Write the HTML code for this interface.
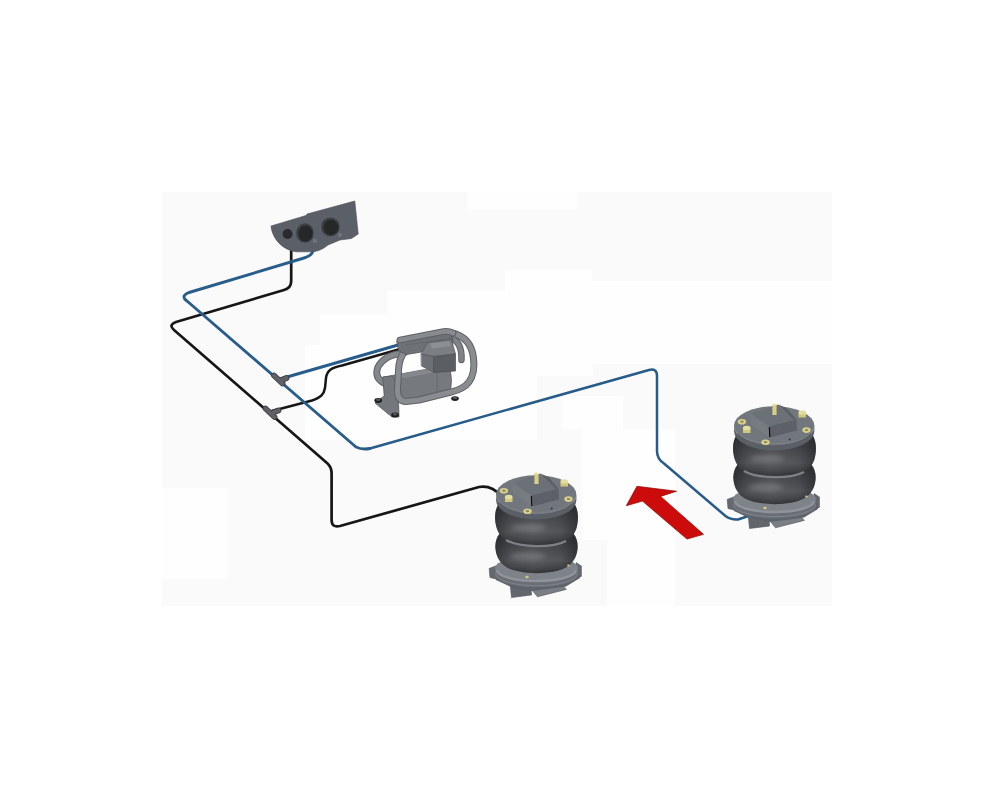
<!DOCTYPE html>
<html><head><meta charset="utf-8"><title>Air suspension</title>
<style>
html,body{margin:0;padding:0;background:#fff;width:1000px;height:800px;overflow:hidden;font-family:"Liberation Sans",sans-serif;}
svg{position:absolute;left:0;top:0;}
</style></head><body>
<svg width="1000" height="800" viewBox="0 0 1000 800">
<defs>
<filter id="hb" x="-50%" y="-50%" width="200%" height="200%"><feGaussianBlur stdDeviation="2.2"/></filter>
<linearGradient id="belg" x1="0" y1="0" x2="0" y2="1">
<stop offset="0" stop-color="#37383c"/><stop offset="0.3" stop-color="#46474b"/><stop offset="0.68" stop-color="#5a5b5f"/><stop offset="0.86" stop-color="#45464a"/><stop offset="1" stop-color="#2c2d31"/>
</linearGradient>
<linearGradient id="bel" x1="0" y1="0" x2="1" y2="0">
<stop offset="0" stop-color="#1e1f22" stop-opacity="0.55"/><stop offset="0.18" stop-color="#1e1f22" stop-opacity="0.1"/><stop offset="0.45" stop-color="#808185" stop-opacity="0.12"/><stop offset="0.8" stop-color="#1e1f22" stop-opacity="0.12"/><stop offset="1" stop-color="#1e1f22" stop-opacity="0.6"/>
</linearGradient>
</defs>

<!-- background panel -->
<rect x="162" y="192" width="670" height="414" fill="#fafafa"/>
<g fill="#fefefe">
<rect x="467" y="192" width="109.5" height="17.5"/>
<polygon points="387,291 505,291 505,270 592,270 592,281 832,281 832,364 593,364 593,376 537,376 537,440 305,440 305,345 320,345 320,315 387,315"/>
<rect x="162" y="488" width="65.5" height="91"/>
<rect x="562" y="396" width="61" height="33"/>
<rect x="582" y="429" width="93" height="111"/>
<rect x="607" y="539" width="68" height="67"/>
</g>

<!-- lines -->
<g fill="none" stroke-linecap="round" stroke-linejoin="round">
<!-- black main -->
<path d="M291.2,250 L291.2,281 Q291.2,288 284,290 L176,322 Q168,325 174,330 L327,463 Q331.6,467 331.6,473 L331.6,520 Q331.6,528 340,526 L479,487 Q492,485 501,496" stroke="#161616" stroke-width="2.7"/>
<!-- black branch -->
<path d="M272,411 L312,400.5 C321,397.5 324,394 325,388 L326,378 C327,370 332,367.5 342,365.5 L402,348.5" stroke="#161616" stroke-width="2.5"/>
<!-- blue main -->
<path d="M313,248 Q314,255 304,258 L189,292.5 Q180,296 187,301 L356,447 Q362,450 370,448.5" stroke="#285d8b" stroke-width="2.9"/>
<path d="M369,448.7 L649,370 Q657,368 657,376 L657,451 Q657,459 664,463.5 L725.5,516 Q731,520 738,519.5 L747,516.5" stroke="#275c8a" stroke-width="2.5"/>
<!-- blue branch -->
<path d="M280,379 L398,345" stroke="#285d8b" stroke-width="2.9"/>
</g>

<!-- T fittings -->
<g fill="none" stroke-linecap="round">
<path d="M274,375.5 L282.5,383.5 M282,380 L286.5,378" stroke="#38393d" stroke-width="5.8"/>
<path d="M274,375.5 L282.5,383.5 M282,380 L286.5,378" stroke="#5f6166" stroke-width="4.2"/>
<path d="M265.5,408.5 L274.5,417 M274,412 L278.5,410.5" stroke="#38393d" stroke-width="5.8"/>
<path d="M265.5,408.5 L274.5,417 M274,412 L278.5,410.5" stroke="#5f6166" stroke-width="4.2"/>
</g>

<!-- gauge panel -->
<g>
<path d="M271,226 L306,215.5 L307,214 L354.8,201 L358.2,234 L351.5,238.5 L340,240 L328,245 Q320,252 310,251.8 L296,251.8 C282,250 272,238 271,226 Z" fill="#5b5f67" stroke="#4a4e55" stroke-width="0.6"/>
<circle cx="287.5" cy="234" r="5" fill="#2a2b2e"/>
<ellipse cx="305" cy="233" rx="8.8" ry="9.8" fill="#3c3e42"/>
<ellipse cx="305.5" cy="233.5" rx="7" ry="8" fill="#262729"/>
<ellipse cx="330.4" cy="226.9" rx="9.3" ry="9.3" fill="#3c3e42"/>
<ellipse cx="330.9" cy="227.4" rx="7.5" ry="7.6" fill="#262729"/>
<circle cx="315" cy="241" r="2.3" fill="#6e727a"/>
<circle cx="340" cy="235" r="2.3" fill="#6e727a"/>
</g>

<!-- compressor -->
<g stroke-linecap="round" stroke-linejoin="round">
<!-- back loop right side (inside) -->
<path d="M450,338 C458,340 462,347 461.5,360" fill="none" stroke="#5d6065" stroke-width="6.5"/>
<path d="M450,338 C458,340 462,347 461.5,360" fill="none" stroke="#7f8287" stroke-width="4.5"/>
<!-- back loop -->
<path d="M404,353 C393,354 382,358 377.5,368 C375,376 379,381 386,384" fill="none" stroke="#5d6065" stroke-width="6.8"/>
<path d="M404,353 C393,354 382,358 377.5,368 C375,376 379,381 386,384" fill="none" stroke="#84878c" stroke-width="4.8"/>
<!-- cylinder -->
<path d="M384,377 L436,367.5 L450,368 Q453,380 450,394 L436,396 L404,401 Q390,398 384,377 Z" fill="#76797e" stroke="#5a5d62" stroke-width="0.8"/>
<path d="M400,374 L436,367.5 L437,372 L401,378.5 Z" fill="#85888d"/>
<path d="M436,367.5 Q439,382 436.5,396" fill="none" stroke="#666a6f" stroke-width="0.9"/>
<!-- base plate -->
<polygon points="383,377 392,376 398,384 399,417 392,417 375,403 384,396" fill="#74777c" stroke="#55585d" stroke-width="0.8"/>
<!-- front loop -->
<path d="M404,352 C400,358 399,362 398.6,369 L397.5,390 C397.3,397 400,401 406,401.5 L419,400 L451,392 C460,390 466,386 469,382 C474,375 474.5,366 473.5,358 C472,345 465,336 452,333" fill="none" stroke="#5d6065" stroke-width="7"/>
<path d="M404,352 C400,358 399,362 398.6,369 L397.5,390 C397.3,397 400,401 406,401.5 L419,400 L451,392 C460,390 466,386 469,382 C474,375 474.5,366 473.5,358 C472,345 465,336 452,333" fill="none" stroke="#898c91" stroke-width="5"/>
<!-- manifold -->
<polygon points="397,341 450,333 453,340 452,347 406.5,354.5 399,351" fill="#6e7176" stroke="#505358" stroke-width="0.8"/>
<path d="M406,345 L452,338" stroke="#63666b" stroke-width="0.8"/>
<!-- top tube -->
<path d="M400,340 L441,332 C446,331 449,331 453,333" fill="none" stroke="#5d6065" stroke-width="6.8"/>
<path d="M400,340 L441,332 C446,331 449,331 453,333" fill="none" stroke="#878a8f" stroke-width="4.8"/>
<!-- motor head -->
<polygon points="428,342.5 451.5,339.5 455.5,354 434,356.5 421.4,354" fill="#7b7e83" stroke="#54575c" stroke-width="0.7"/>
<polygon points="430,343.5 449,341 451,346 432,348.5" fill="#8c8f94"/>
<polygon points="421.4,354 434,356.5 434,372.5 421.6,366" fill="#6c6f74" stroke="#54575c" stroke-width="0.7"/>
<polygon points="434,356.5 455.5,354 455.5,371 434,372.5" fill="#5b5e63" stroke="#4c4f54" stroke-width="0.7"/>
<!-- feet -->
<ellipse cx="378.2" cy="400.5" rx="3.8" ry="2.4" fill="#1d1d1f"/><ellipse cx="378.2" cy="399.8" rx="2.2" ry="1.2" fill="#55575b"/>
<ellipse cx="395" cy="415" rx="3.8" ry="2.4" fill="#1d1d1f"/><ellipse cx="395" cy="414.3" rx="2.2" ry="1.2" fill="#55575b"/>
<ellipse cx="455" cy="398.6" rx="3.8" ry="2.4" fill="#1d1d1f"/><ellipse cx="455" cy="397.9" rx="2.2" ry="1.2" fill="#55575b"/>
</g>

<!-- springs -->
<g>
<!-- base bracket -->
<polygon points="489.2,568.4 497,565.5 498,579.5 490,577.5" fill="#64686f" stroke="#4f5359" stroke-width="0.6"/>
<polygon points="576,562 581.8,566 581.8,576.5 576,579" fill="#64686f"/>
<polygon points="510.2,584.5 530.5,581.5 531.5,595 511.5,597.5" fill="#62666d" stroke="#4f5359" stroke-width="0.6"/>
<polygon points="532.3,590.5 562.7,585.2 566.4,589.4 537.5,596.8" fill="#7a7e85" stroke="#53575d" stroke-width="0.6"/>
<polygon points="531.5,589 562.7,584 562.7,586 532.3,591" fill="#8a8e95"/>
<polygon points="495,570 578,570 580,578 566,586.5 532,591 511,587 496,580" fill="#5e626a"/>
<!-- bottom plate -->
<path d="M495,568 A41.5,12.5 0 0 0 578,568 L578,575 A41.5,12.5 0 0 1 495,575 Z" fill="#6a6e75"/>
<path d="M495.5,573.5 A41,12.2 0 0 0 577.5,573.5" fill="none" stroke="#80848b" stroke-width="1"/>
<ellipse cx="536.5" cy="568" rx="41.5" ry="12.5" fill="#7e8289"/>
<path d="M497,570 A39.5,11 0 0 0 576,570" fill="none" stroke="#90949a" stroke-width="2.4"/>
<!-- lower bellow -->
<path d="M500,533 C496,538 495,543 495.5,549 C496.5,558 501,564 507,567.5 C521,575 552,575 566,567.5 C572,564 576.5,558 577.5,549 C578,543 577,538 573,533 Z" fill="url(#belg)"/>
<path d="M500,533 C496,538 495,543 495.5,549 C496.5,558 501,564 507,567.5 C521,575 552,575 566,567.5 C572,564 576.5,558 577.5,549 C578,543 577,538 573,533 Z" fill="url(#bel)"/>
<ellipse cx="528" cy="556" rx="17" ry="3.8" fill="#8a8b8f" opacity="0.45" filter="url(#hb)"/>
<!-- girdle -->

<!-- upper bellow -->
<path d="M499,503 C495,509 494.5,517 495.5,523 C497,532 501,538 507,541 C521,546.5 552,546.5 566,541 C572,538 576.5,532 577.5,523 C578.5,517 578,509 574,503 Z" fill="url(#belg)"/>
<path d="M499,503 C495,509 494.5,517 495.5,523 C497,532 501,538 507,541 C521,546.5 552,546.5 566,541 C572,538 576.5,532 577.5,523 C578.5,517 578,509 574,503 Z" fill="url(#bel)"/>
<ellipse cx="529" cy="527.5" rx="17" ry="3.8" fill="#8a8b8f" opacity="0.45" filter="url(#hb)"/>
<path d="M506,540 C520,548 553,548 566,541" fill="none" stroke="#7d8085" stroke-width="2.4"/>
<!-- top plate rim -->
<path d="M496,494.8 A40.2,19.6 0 0 0 576.4,494.8 L576.4,500 A40.2,19.6 0 0 1 496,500 Z" fill="#5b5f66"/>
<!-- top plate -->
<ellipse cx="536.2" cy="494.8" rx="40.2" ry="19.6" fill="#72767d"/>
<path d="M497,497.5 A40,19 0 0 0 575.5,497.5" fill="none" stroke="#7d8188" stroke-width="1"/>
<!-- bracket block -->
<polygon points="512.8,482.8 540.6,473.4 558.5,488.6 531.2,495.5" fill="#6c7077"/>
<polygon points="531.2,495.5 558.5,488.6 559,499.6 531.7,506.5" fill="#5d6167"/>
<polygon points="512.8,482.8 531.2,495.5 531.7,506.5 513,493" fill="#777b82"/>
<polygon points="540.6,473.4 549,477.6 558.5,488.6 556,489" fill="#5c6066"/>
<line x1="531.4" y1="496" x2="531.7" y2="506" stroke="#111" stroke-width="1.2"/>
<!-- stud -->
<rect x="534.4" y="473" width="4.2" height="11" fill="#d6cf86"/>
<ellipse cx="536.5" cy="473.4" rx="2.1" ry="1" fill="#ece6a6"/>
<!-- bolts -->
<ellipse cx="503.9" cy="490.7" rx="4.2" ry="2.8" fill="#d9d18a"/><ellipse cx="503.9" cy="490.7" rx="1.8" ry="1.1" fill="#8d8a64"/>
<ellipse cx="568.5" cy="499.1" rx="4.2" ry="2.8" fill="#d9d18a"/><ellipse cx="568.5" cy="499.1" rx="1.8" ry="1.1" fill="#8d8a64"/>
<ellipse cx="527.5" cy="511.2" rx="4.2" ry="2.8" fill="#d9d18a"/><ellipse cx="527.5" cy="511.2" rx="1.8" ry="1.1" fill="#8d8a64"/>
<rect x="505" y="497" width="7.5" height="5" fill="#cfc780"/><ellipse cx="508.7" cy="497" rx="3.8" ry="2.2" fill="#e3dc9c"/>
<rect x="560.5" y="481.5" width="7.5" height="5" fill="#cfc780"/><ellipse cx="564.3" cy="481.5" rx="3.8" ry="2.2" fill="#e3dc9c"/>
<circle cx="551.7" cy="508.6" r="1" fill="#333"/>
<ellipse cx="527" cy="577" rx="1.8" ry="1.2" fill="#cfc780"/>
<ellipse cx="568.5" cy="565.5" rx="1.4" ry="0.9" fill="#cfc780"/>
</g>
<g transform="translate(238,-69)">
<!-- base bracket -->
<polygon points="489.2,568.4 497,565.5 498,579.5 490,577.5" fill="#64686f" stroke="#4f5359" stroke-width="0.6"/>
<polygon points="576,562 581.8,566 581.8,576.5 576,579" fill="#64686f"/>
<polygon points="510.2,584.5 530.5,581.5 531.5,595 511.5,597.5" fill="#62666d" stroke="#4f5359" stroke-width="0.6"/>
<polygon points="532.3,590.5 562.7,585.2 566.4,589.4 537.5,596.8" fill="#7a7e85" stroke="#53575d" stroke-width="0.6"/>
<polygon points="531.5,589 562.7,584 562.7,586 532.3,591" fill="#8a8e95"/>
<polygon points="495,570 578,570 580,578 566,586.5 532,591 511,587 496,580" fill="#5e626a"/>
<!-- bottom plate -->
<path d="M495,568 A41.5,12.5 0 0 0 578,568 L578,575 A41.5,12.5 0 0 1 495,575 Z" fill="#6a6e75"/>
<path d="M495.5,573.5 A41,12.2 0 0 0 577.5,573.5" fill="none" stroke="#80848b" stroke-width="1"/>
<ellipse cx="536.5" cy="568" rx="41.5" ry="12.5" fill="#7e8289"/>
<path d="M497,570 A39.5,11 0 0 0 576,570" fill="none" stroke="#90949a" stroke-width="2.4"/>
<!-- lower bellow -->
<path d="M500,533 C496,538 495,543 495.5,549 C496.5,558 501,564 507,567.5 C521,575 552,575 566,567.5 C572,564 576.5,558 577.5,549 C578,543 577,538 573,533 Z" fill="url(#belg)"/>
<path d="M500,533 C496,538 495,543 495.5,549 C496.5,558 501,564 507,567.5 C521,575 552,575 566,567.5 C572,564 576.5,558 577.5,549 C578,543 577,538 573,533 Z" fill="url(#bel)"/>
<ellipse cx="528" cy="556" rx="17" ry="3.8" fill="#8a8b8f" opacity="0.45" filter="url(#hb)"/>
<!-- girdle -->

<!-- upper bellow -->
<path d="M499,503 C495,509 494.5,517 495.5,523 C497,532 501,538 507,541 C521,546.5 552,546.5 566,541 C572,538 576.5,532 577.5,523 C578.5,517 578,509 574,503 Z" fill="url(#belg)"/>
<path d="M499,503 C495,509 494.5,517 495.5,523 C497,532 501,538 507,541 C521,546.5 552,546.5 566,541 C572,538 576.5,532 577.5,523 C578.5,517 578,509 574,503 Z" fill="url(#bel)"/>
<ellipse cx="529" cy="527.5" rx="17" ry="3.8" fill="#8a8b8f" opacity="0.45" filter="url(#hb)"/>
<path d="M506,540 C520,548 553,548 566,541" fill="none" stroke="#7d8085" stroke-width="2.4"/>
<!-- top plate rim -->
<path d="M496,494.8 A40.2,19.6 0 0 0 576.4,494.8 L576.4,500 A40.2,19.6 0 0 1 496,500 Z" fill="#5b5f66"/>
<!-- top plate -->
<ellipse cx="536.2" cy="494.8" rx="40.2" ry="19.6" fill="#72767d"/>
<path d="M497,497.5 A40,19 0 0 0 575.5,497.5" fill="none" stroke="#7d8188" stroke-width="1"/>
<!-- bracket block -->
<polygon points="512.8,482.8 540.6,473.4 558.5,488.6 531.2,495.5" fill="#6c7077"/>
<polygon points="531.2,495.5 558.5,488.6 559,499.6 531.7,506.5" fill="#5d6167"/>
<polygon points="512.8,482.8 531.2,495.5 531.7,506.5 513,493" fill="#777b82"/>
<polygon points="540.6,473.4 549,477.6 558.5,488.6 556,489" fill="#5c6066"/>
<line x1="531.4" y1="496" x2="531.7" y2="506" stroke="#111" stroke-width="1.2"/>
<!-- stud -->
<rect x="534.4" y="473" width="4.2" height="11" fill="#d6cf86"/>
<ellipse cx="536.5" cy="473.4" rx="2.1" ry="1" fill="#ece6a6"/>
<!-- bolts -->
<ellipse cx="503.9" cy="490.7" rx="4.2" ry="2.8" fill="#d9d18a"/><ellipse cx="503.9" cy="490.7" rx="1.8" ry="1.1" fill="#8d8a64"/>
<ellipse cx="568.5" cy="499.1" rx="4.2" ry="2.8" fill="#d9d18a"/><ellipse cx="568.5" cy="499.1" rx="1.8" ry="1.1" fill="#8d8a64"/>
<ellipse cx="527.5" cy="511.2" rx="4.2" ry="2.8" fill="#d9d18a"/><ellipse cx="527.5" cy="511.2" rx="1.8" ry="1.1" fill="#8d8a64"/>
<rect x="505" y="497" width="7.5" height="5" fill="#cfc780"/><ellipse cx="508.7" cy="497" rx="3.8" ry="2.2" fill="#e3dc9c"/>
<rect x="560.5" y="481.5" width="7.5" height="5" fill="#cfc780"/><ellipse cx="564.3" cy="481.5" rx="3.8" ry="2.2" fill="#e3dc9c"/>
<circle cx="551.7" cy="508.6" r="1" fill="#333"/>
<ellipse cx="527" cy="577" rx="1.8" ry="1.2" fill="#cfc780"/>
<ellipse cx="568.5" cy="565.5" rx="1.4" ry="0.9" fill="#cfc780"/>
</g>

<!-- red arrow -->
<polygon points="636.95,486.3 676.55,491.2 660.6,496.4 703.5,534.35 687,539.1 642.45,501.1 626.3,505.75" fill="#cc0b0b" stroke="#8e0606" stroke-width="0.7" stroke-linejoin="miter"/>
</svg>
</body></html>
